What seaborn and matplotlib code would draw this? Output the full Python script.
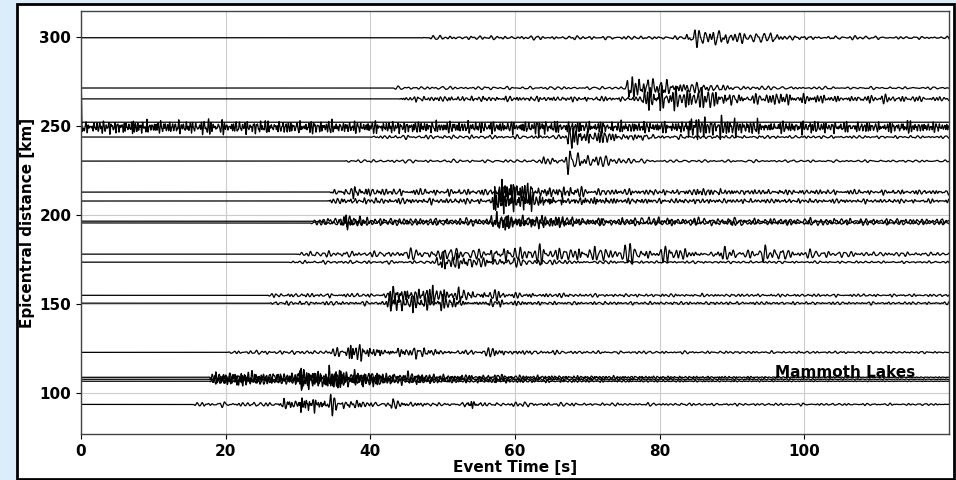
import numpy as np
import pandas as pd
import matplotlib
matplotlib.use("Agg")
import matplotlib.pyplot as plt
import seaborn as sns
from matplotlib.patches import Rectangle

# ---- data (per trace) ----
distances = [299.5, 271.3, 265.2, 252.1, 249.3, 243.8, 230.3, 212.9, 207.9, 196.6,
             195.6, 178.1, 173.6, 155.0, 150.6, 123.0, 109.0, 107.9, 106.8, 93.8]
onsets = [47.0, 42.5, 44.0, 0.0, 0.0, 40.0, 36.5, 34.3, 34.0, 32.0,
          31.7, 29.8, 28.6, 25.5, 25.8, 20.3, 17.5, 17.6, 17.8, 15.3]
noise_amps = [0.6, 0.5, 0.8, 0.0, 2.0, 0.6, 0.5, 1.0, 0.9, 1.0,
              0.8, 0.9, 0.5, 0.6, 0.6, 0.6, 1.8, 1.5, 1.2, 0.7]
noise_periods = [0.9, 1.0, 0.6, 1.0, 0.4, 0.8, 1.0, 0.6, 0.6, 0.7,
                 0.7, 0.8, 0.8, 0.7, 0.7, 0.8, 0.5, 0.5, 0.5, 0.8]
noise_decays = [200, 200, 200, 200, 400, 200, 200, 200, 200, 300,
                300, 200, 200, 200, 200, 150, 40, 40, 40, 120]
# arrivals: time [s], amplitude [km], decay [s], period [s]
arrival_times = [
    [84.0, 87.0, 89.5, 95.5, 106.0],
    [75.8, 78.5, 84.0],
    [78.0, 80.5, 86.0, 96.0, 108.0],
    [],
    [0.0, 6.5, 17.5, 24.0, 33.0, 63.5, 84.0, 88.5, 99.0, 113.5],
    [67.5, 70.5, 75.0],
    [64.0, 67.5, 72.0],
    [37.0, 58.3, 62.0, 69.0, 85.5],
    [57.3, 61.0, 70.0],
    [36.5, 57.0, 62.0, 75.0],
    [36.7, 57.5, 63.0, 80.0],
    [45.0, 50.0, 57.0, 63.0, 69.0, 75.0, 80.5, 88.0, 94.0, 100.0],
    [49.5, 54.0, 60.0],
    [43.0, 47.5, 52.0, 57.0],
    [42.8, 46.0, 50.0, 56.5],
    [35.0, 37.0, 44.0, 56.0],
    [22.0, 30.0, 34.0, 38.0, 45.0, 57.5],
    [22.5, 30.5, 34.5, 39.0, 46.0],
    [21.5, 31.0, 35.0, 40.0],
    [28.0, 30.5, 34.5, 37.0, 43.0, 53.5, 60.0],
]
arrival_amps = [
    [3.5, 2.5, 2.5, 1.4, 0.8],
    [4.5, 3.0, 1.0],
    [4.0, 3.0, 2.5, 2.0, 1.5],
    [],
    [12.0, 2.0, 2.2, 1.8, 1.8, 3.0, 4.0, 3.5, 1.5, 3.0],
    [4.0, 3.0, 1.0],
    [1.5, 4.5, 1.5],
    [1.5, 4.5, 2.5, 1.0, 1.0],
    [5.0, 3.0, 1.0],
    [2.5, 3.0, 2.0, 1.0],
    [2.0, 2.5, 1.8, 0.8],
    [1.5, 2.5, 3.0, 3.0, 3.0, 3.0, 2.8, 2.8, 2.8, 1.2],
    [4.0, 2.0, 1.0],
    [3.0, 3.5, 1.5, 1.0],
    [3.5, 3.0, 2.0, 1.5],
    [1.5, 3.5, 2.0, 1.2],
    [2.5, 3.5, 3.0, 2.0, 1.5, 1.5],
    [2.0, 3.0, 3.0, 2.0, 1.2],
    [2.0, 3.0, 2.5, 1.5],
    [2.0, 3.5, 3.0, 1.5, 1.5, 1.8, 0.7],
]
arrival_decays = [
    [6.0, 4.0, 4.0, 4.0, 4.0],
    [4.0, 5.0, 10.0],
    [6.0, 8.0, 8.0, 8.0, 10.0],
    [],
    [0.15, 2.0, 2.0, 2.0, 2.0, 1.0, 5.0, 4.0, 3.0, 1.0],
    [3.0, 3.0, 8.0],
    [3.0, 3.5, 4.0],
    [2.0, 4.0, 4.0, 4.0, 3.0],
    [4.0, 4.0, 5.0],
    [2.0, 5.0, 6.0, 20.0],
    [2.0, 5.0, 6.0, 20.0],
    [5.0, 6.0, 6.0, 5.0, 5.0, 4.0, 4.0, 4.0, 5.0, 10.0],
    [4.0, 4.0, 8.0],
    [5.0, 4.0, 6.0, 6.0],
    [3.0, 3.0, 4.0, 3.0],
    [2.0, 4.0, 6.0, 6.0],
    [1.5, 4.0, 4.0, 5.0, 4.0, 2.0],
    [1.5, 4.0, 4.0, 5.0, 4.0],
    [1.5, 4.0, 4.0, 5.0],
    [2.0, 2.5, 1.5, 3.0, 3.0, 1.0, 5.0],
]
arrival_periods = [
    [0.8, 0.9, 0.9, 0.9, 0.9],
    [0.6, 0.7, 0.9],
    [0.5, 0.5, 0.6, 0.6, 0.6],
    [],
    [0.4, 0.4, 0.4, 0.4, 0.4, 0.4, 0.45, 0.45, 0.5, 0.4],
    [0.5, 0.5, 0.8],
    [0.8, 0.8, 0.8],
    [0.5, 0.4, 0.5, 0.6, 0.5],
    [0.35, 0.4, 0.5],
    [0.5, 0.5, 0.6, 0.8],
    [0.5, 0.5, 0.6, 0.8],
    [0.9, 0.8, 0.7, 0.7, 0.7, 0.7, 0.7, 0.8, 0.8, 0.8],
    [0.6, 0.7, 0.7],
    [0.5, 0.5, 0.6, 0.6],
    [0.5, 0.5, 0.6, 0.7],
    [0.6, 0.5, 0.6, 0.6],
    [0.4, 0.5, 0.5, 0.5, 0.5, 0.4],
    [0.4, 0.5, 0.5, 0.5, 0.5],
    [0.4, 0.5, 0.5, 0.5],
    [0.5, 0.4, 0.5, 0.6, 0.6, 0.4, 0.7],
]
x_ticks = [0, 20, 40, 60, 80, 100]
y_ticks = [100, 150, 200, 250, 300]
region_label = "Mammoth Lakes"

# ---- build traces ----
t = np.arange(0.0, 120.0 + 1e-9, 0.04)
RATIOS = [1.0, 1.27, 0.81, 1.53, 0.66, 1.91, 1.13]
WEIGHTS = [1.0, 0.8, 0.7, 0.6, 0.5, 0.5, 0.4]


def carrier(period, phase):
    f = 1.0 / period
    s = np.zeros_like(t)
    for k, (r, w) in enumerate(zip(RATIOS, WEIGHTS)):
        s += w * np.sin(2 * np.pi * f * r * t + phase * (k + 1) * 1.37)
    return s / 1.5


def envelope(tp, dur):
    rise = 0.4
    return np.where(t < tp, np.exp(-((tp - t) / rise) ** 2), np.exp(-(t - tp) / dur))


rows = []
for i, d in enumerate(distances):
    w = np.zeros_like(t)
    on = onsets[i]
    after = t >= on
    nenv = np.where(after, (1 - np.exp(-(t - on) / 0.5)) * np.exp(-(t - on) / noise_decays[i]), 0.0)
    w += noise_amps[i] * nenv * carrier(noise_periods[i], 0.7 + i * 0.53)
    for j, tp in enumerate(arrival_times[i]):
        w += arrival_amps[i][j] * envelope(tp, arrival_decays[i][j]) * \
            carrier(arrival_periods[i][j], 1.1 + i * 0.91 + j * 0.37)
    w[~after] = 0.0
    rows.append(pd.DataFrame({"time": t, "dist": d + w, "trace": i}))
df = pd.concat(rows, ignore_index=True)

# ---- figure ----
plt.rcParams["font.family"] = ["DejaVu Sans"]
fig = plt.figure(figsize=(9.56, 4.8), dpi=100, facecolor="#dbecfb")
fig.patches.append(Rectangle((16.5 / 956, 1.5 / 480), (954 - 16.5) / 956, (477 - 2.5) / 480,
                             transform=fig.transFigure, facecolor="white",
                             edgecolor="black", linewidth=2, zorder=-1))
ax = fig.add_axes([81 / 956, 1 - 434 / 480, (949 - 81) / 956, (434 - 11) / 480])
ax.set_facecolor("white")

sns.lineplot(data=df, x="time", y="dist", units="trace", estimator=None, sort=False,
             color="black", linewidth=0.9, ax=ax, legend=False)

ax.set_xlim(0, 120)
ax.set_ylim(77.2, 314.5)
ax.set_xticks(x_ticks)
ax.set_yticks(y_ticks)
ax.grid(True, color="#cccccc", linewidth=0.8)
ax.set_axisbelow(True)
for s in ax.spines.values():
    s.set_color("#444444")
    s.set_linewidth(1.0)
ax.tick_params(colors="black", labelsize=11, length=3.5)
for lab in ax.get_xticklabels() + ax.get_yticklabels():
    lab.set_fontweight("bold")
ax.set_xlabel("Event Time [s]", fontsize=11, fontweight="bold", labelpad=1)
ax.set_ylabel("Epicentral distance [km]", fontsize=11, fontweight="bold", labelpad=3)
ax.text(96.0, 109.4, region_label, fontsize=11, fontweight="bold", va="baseline", ha="left")

fig.savefig("out.png", dpi=100, facecolor=fig.get_facecolor())
